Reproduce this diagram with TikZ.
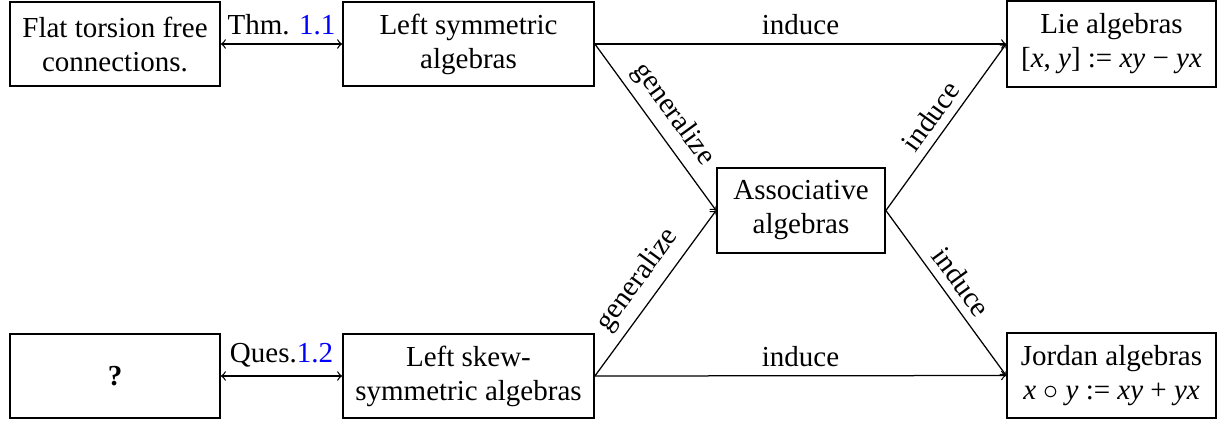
\documentclass[tikz,border=0pt]{standalone}
\usepackage{fontspec}
\setmainfont{Liberation Serif}
\begin{document}
\begin{tikzpicture}[x=0.4pt,y=-0.4pt,
 box/.style={draw,line width=0.7pt,align=center,inner sep=0pt,font=\fontsize{11.6}{13.6}\selectfont},
 lbl/.style={font=\fontsize{11.6}{13.6}\selectfont},
 arr/.style={->,line width=0.5pt},
 barr/.style={<->,line width=0.5pt}]
\useasboundingbox (0,0) rectangle (1217,421);
\node[box,minimum width=84pt,minimum height=33.6pt] (flat) at (115,44) {Flat torsion free\\connections.};
\node[box,minimum width=100.4pt,minimum height=33.6pt] (lsym) at (468.5,44) {Left symmetric\\algebras};
\node[box,minimum width=83.6pt,minimum height=34.4pt] (lie) at (1111.5,44) {Lie algebras\\{}[\textit{x}, \textit{y}] := \textit{xy} − \textit{yx}};
\node[box,minimum width=67.2pt,minimum height=34pt] (assoc) at (801,210.5) {Associative\\algebras};
\node[box,minimum width=84pt,minimum height=33.6pt] (ques) at (115,376) {\textbf{?}};
\node[box,minimum width=100.4pt,minimum height=33.6pt] (lskew) at (468.5,376) {Left skew-\\symmetric algebras};
\node[box,minimum width=83.6pt,minimum height=34pt] (jordan) at (1111.5,375.5) {Jordan algebras\\\textit{x} $\circ$ \textit{y} := \textit{xy} + \textit{yx}};
\draw[barr] (flat) -- node[above,lbl]{Thm. \textcolor{blue}{1.1}} (lsym);
\draw[arr] (lsym.east) -- node[above,lbl]{induce} (lie.west);
\draw[arr] (lsym.east) -- node[above,sloped,lbl]{generalize} (assoc.west);
\draw[arr] (assoc.east) -- node[above,sloped,lbl]{induce} (lie.west);
\draw[arr] (lskew.east) -- node[above,sloped,lbl]{generalize} (assoc.west);
\draw[arr] (assoc.east) -- node[above,sloped,lbl]{induce} (jordan.west);
\draw[barr] (ques) -- node[above,lbl]{Ques.\textcolor{blue}{1.2}} (lskew);
\draw[arr] (lskew.east) -- node[above,lbl]{induce} (jordan.west);
\end{tikzpicture}
\end{document}
